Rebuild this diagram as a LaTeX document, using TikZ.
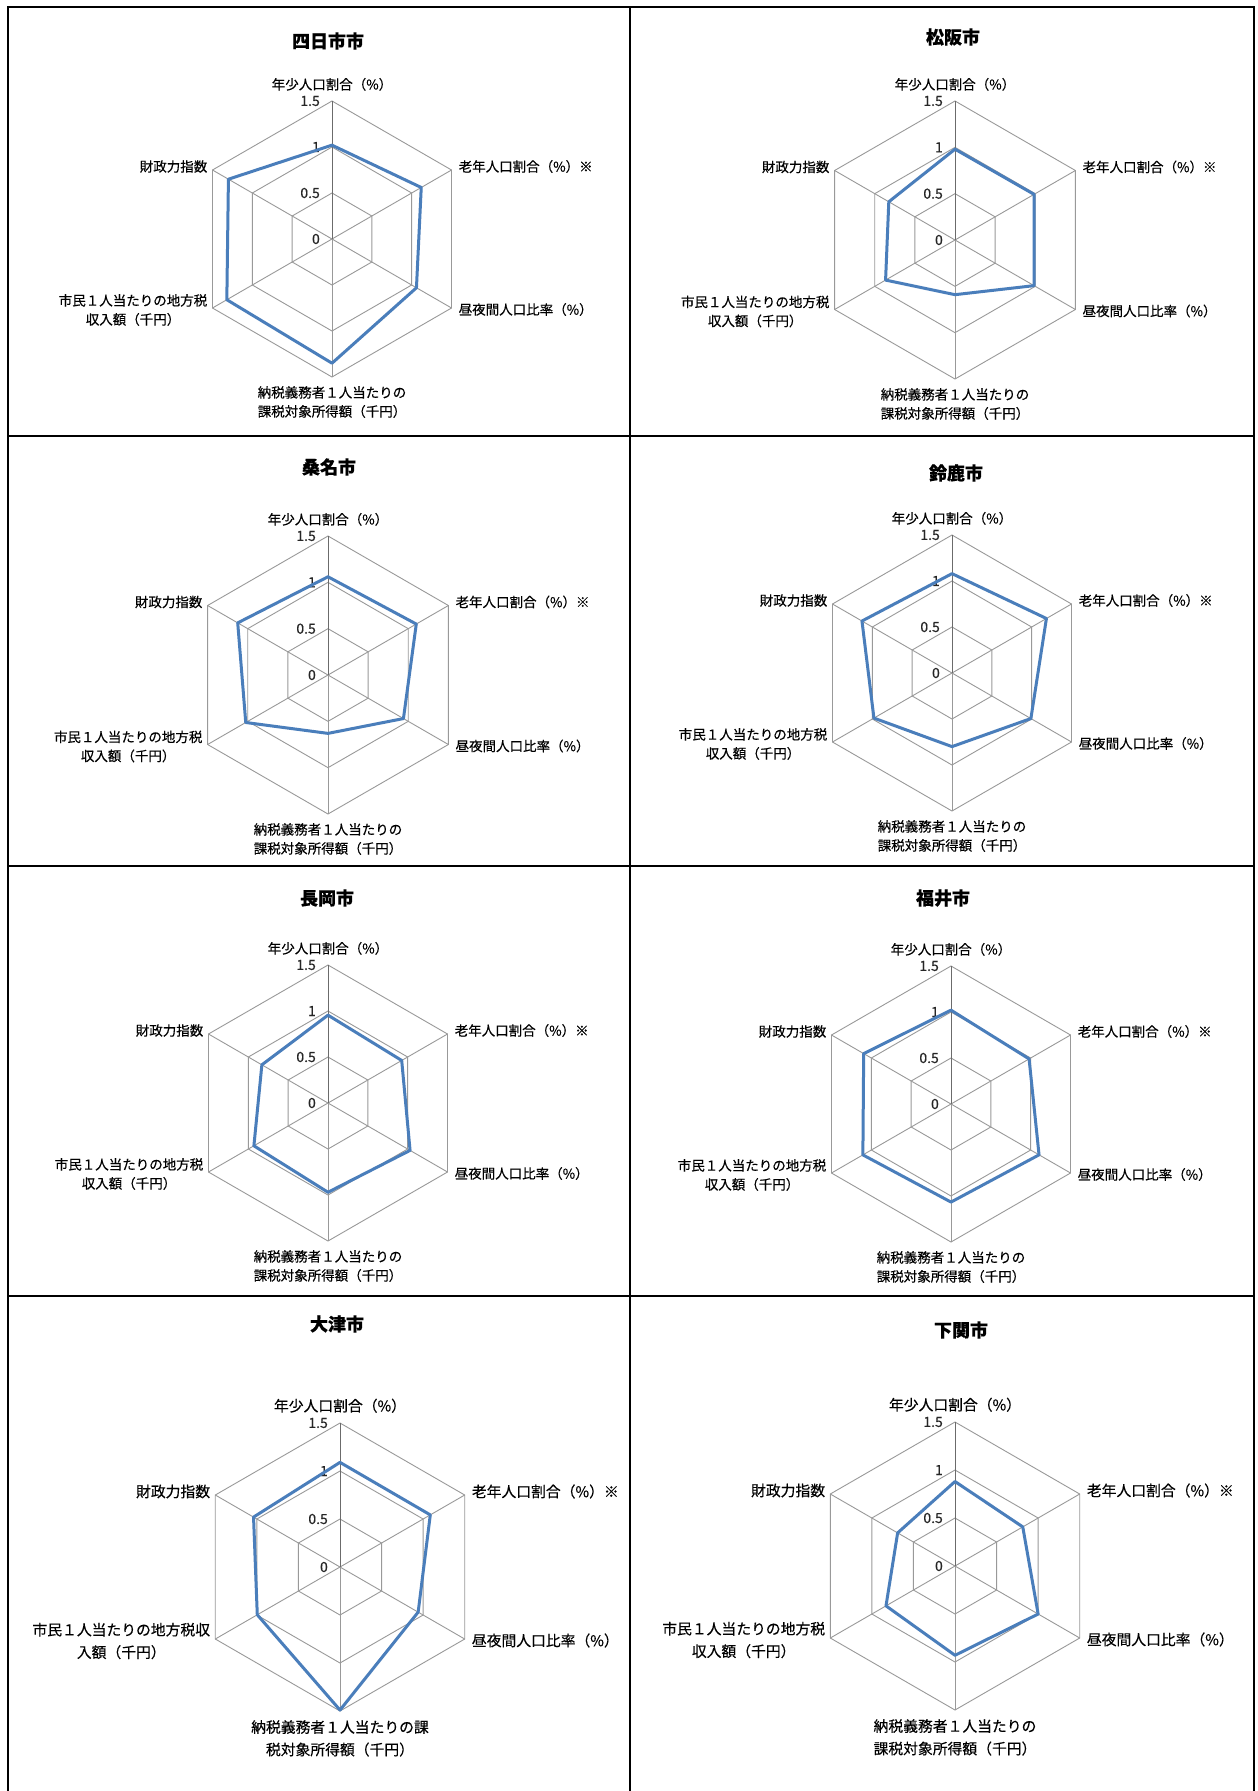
\documentclass[tikz,border=0pt]{standalone}
\usepackage{fontspec}
\newfontfamily\jp[FakeBold=0.35]{Noto Sans CJK JP}
\usepackage{tikz}
\definecolor{seriesblue}{RGB}{74,126,187}
\tikzstyle{gridline}=[draw=black!40,line width=0.9pt]
\tikzstyle{axisline}=[draw=black!58,line width=0.9pt]
\tikzstyle{dataline}=[draw=seriesblue,line width=3pt,line join=round]
\tikzstyle{frame}=[draw=black,line width=2pt]
\tikzstyle{charttitle}=[font=\jp\bfseries\fontsize{18}{22}\selectfont,inner sep=0pt]
\tikzstyle{ticklabel}=[font=\jp\fontsize{14}{16}\selectfont,text=black!85,inner sep=0pt,anchor=east]
\tikzstyle{lblA}=[font=\jp\fontsize{13.5}{19}\selectfont,inner sep=0pt]
\tikzstyle{lblB}=[font=\jp\fontsize{14.8}{22.5}\selectfont,inner sep=0pt]

\newcommand{\radarpanel}[9]{%
  \node[charttitle] (#1-title) at #4 {#5};
  \begin{scope}[shift={#2},every node/.append style=#9]
    \foreach \k in {1,2,3}
      \draw[gridline] (90:{\k*#3/3}) -- (30:{\k*#3/3}) -- (-30:{\k*#3/3}) -- (-90:{\k*#3/3}) -- (-150:{\k*#3/3}) -- (150:{\k*#3/3}) -- cycle;
    \foreach \a in {30,-30,-90,-150,150}
      \draw[gridline] (0,0) -- (\a:#3);
    \draw[axisline] (0,0) -- (90:#3);
    \foreach \t/\s in {0/0,1/0.5,2/1,3/1.5}
      \node[ticklabel] (#1-tick\t) at (-12,{\t*#3/3}) {\s};
    \foreach \v [count=\i] in {#6}
      \coordinate (#1-v\i) at ({150-60*\i}:{\v*#3/1.5});
    \draw[dataline] (#1-v1) -- (#1-v2) -- (#1-v3) -- (#1-v4) -- (#1-v5) -- (#1-v6) -- cycle;
    \node[anchor=south,yshift=10pt] (#1-young) at (90:#3) {年少人口割合（\%）};
    \node[anchor=west,xshift=7pt,yshift=3.5pt] (#1-old) at (30:#3) {老年人口割合（\%）※};
    \node[anchor=west,xshift=7pt,yshift=-1.5pt] (#1-daynight) at (-30:#3) {昼夜間人口比率（\%）};
    \node[anchor=north,yshift=-9pt,align=center] (#1-income) at (-90:#3) {#8};
    \node[anchor=east,xshift=-5pt,yshift=-2pt,align=center] (#1-localtax) at (-150:#3) {#7};
    \node[anchor=east,xshift=-5pt,yshift=3.5pt] (#1-fiscal) at (150:#3) {財政力指数};
  \end{scope}}

\begin{document}
\begin{tikzpicture}[x=1pt,y=1pt]
    \useasboundingbox (0,0) rectangle (1258,-1791);
    \fill[white] (0,0) rectangle (1258,-1791);

    \draw[frame] (7.5,-1791) -- (7.5,-7) -- (1253.5,-7) -- (1253.5,-1791);
    \draw[frame] (630,-7) -- (630,-1791);
    \foreach \y in {436,866,1295.5}
    \draw[frame] (7.5,-\y) -- (1253.5,-\y);

    \radarpanel{yokkaichi}{(332,-239)}{138}{(328,-41)}{四日市市}{1.02,1.12,1.06,1.35,1.32,1.30}{市民１人当たりの地方税\\収入額（千円）}{納税義務者１人当たりの\\課税対象所得額（千円）}{lblA}
    \radarpanel{matsusaka}{(955,-240)}{139}{(953,-37)}{松阪市}{0.98,0.985,0.985,0.59,0.865,0.825}{市民１人当たりの地方税\\収入額（千円）}{納税義務者１人当たりの\\課税対象所得額（千円）}{lblA}
    \radarpanel{kuwana}{(328,-675)}{139}{(329,-467)}{桑名市}{1.06,1.10,0.94,0.63,1.025,1.125}{市民１人当たりの地方税\\収入額（千円）}{納税義務者１人当たりの\\課税対象所得額（千円）}{lblA}
    \radarpanel{suzuka}{(952,-673)}{138}{(956,-473)}{鈴鹿市}{1.08,1.185,0.99,0.80,0.98,1.13}{市民１人当たりの地方税\\収入額（千円）}{納税義務者１人当たりの\\課税対象所得額（千円）}{lblA}
    \radarpanel{nagaoka}{(328,-1103)}{138}{(327,-898)}{長岡市}{0.955,0.925,1.03,0.97,0.93,0.83}{市民１人当たりの地方税\\収入額（千円）}{納税義務者１人当たりの\\課税対象所得額（千円）}{lblA}
    \radarpanel{fukui}{(951,-1104)}{138}{(943,-898)}{福井市}{1.02,0.98,1.105,1.066,1.106,1.096}{市民１人当たりの地方税\\収入額（千円）}{納税義務者１人当たりの\\課税対象所得額（千円）}{lblA}
    \radarpanel{otsu}{(340,-1567)}{144}{(337,-1324)}{大津市}{1.09,1.086,0.94,1.49,0.995,1.04}{市民１人当たりの地方税収\\入額（千円）}{納税義務者１人当たりの課\\税対象所得額（千円）}{lblB}
    \radarpanel{shimonoseki}{(955,-1566)}{144}{(961,-1330)}{下関市}{0.88,0.815,1.0,0.93,0.83,0.69}{市民１人当たりの地方税\\収入額（千円）}{納税義務者１人当たりの\\課税対象所得額（千円）}{lblB}
\end{tikzpicture}
\end{document}
